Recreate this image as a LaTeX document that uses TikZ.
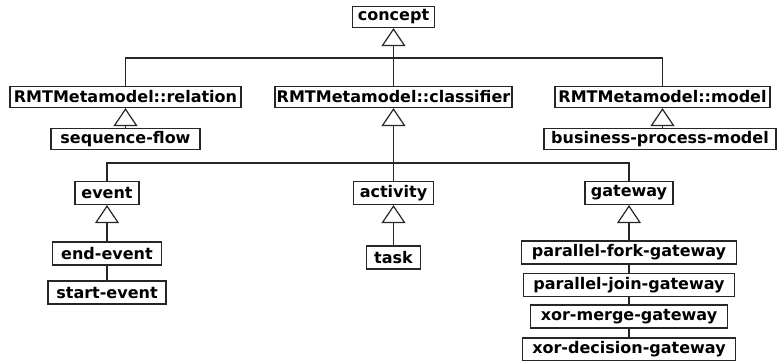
\documentclass[tikz,border=0pt]{standalone}
\usepackage{fontspec}
\setmainfont{DejaVu Sans}
\usetikzlibrary{arrows.meta}
\begin{document}
\begin{tikzpicture}[x=1pt,y=-1pt,
  cls/.style={draw=black!85, line width=1.2pt, fill=white, inner sep=0pt,
    minimum height=21pt, font=\fontsize{16}{19}\selectfont\bfseries, text=black},
  clsl/.style={cls, minimum height=23pt},
  conn/.style={draw=black!85, line width=1.2pt},
  thick conn/.style={conn, line width=1.8pt},
  gen/.style={-{Triangle[open, width=24pt, length=18pt, line width=1.2pt]}},
]
\useasboundingbox (0,0) rectangle (777,361);

% nodes
\node[cls, minimum width=82pt]  (concept)    at (393.5,17)  {concept};
\node[cls, minimum width=231pt] (relation)   at (125.5,97)  {RMTMetamodel::relation};
\node[cls, minimum width=237pt] (classifier) at (393.5,97)  {RMTMetamodel::classifier};
\node[cls, minimum width=215pt] (model)      at (662.5,97)  {RMTMetamodel::model};
\node[cls, minimum width=149pt] (seqflow)    at (125.5,139) {sequence-flow};
\node[cls, minimum width=232pt] (bpm)        at (660,139)   {business-process-model};

\node[clsl, minimum width=64pt]  (event)    at (107,193)   {event};
\node[clsl, minimum width=80pt]  (activity) at (393.5,193) {activity};
\node[clsl, minimum width=88pt]  (gateway)  at (629,193)   {gateway};

\node[clsl, minimum width=109pt] (endev)   at (107,253.5) {end-event};
\node[clsl, minimum width=118pt] (startev) at (107,292.5) {start-event};
\node[clsl, minimum width=54pt]  (task)    at (393.5,257.5) {task};

\node[clsl, minimum width=215pt] (pfork)  at (629,252.5) {parallel-fork-gateway};
\node[clsl, minimum width=211pt] (pjoin)  at (629,285)   {parallel-join-gateway};
\node[clsl, minimum width=197pt] (xmerge) at (629,316.5) {xor-merge-gateway};
\node[clsl, minimum width=213pt] (xdec)   at (629,349.5) {xor-decision-gateway};

% bars
\coordinate (bar1) at (393.5,58);
\coordinate (bar2) at (393.5,163);

% connectors
\draw[conn] (relation.north) |- (bar1) -| (model.north);
\draw[thick conn, gen] (classifier.north) -- (concept.south);

\draw[conn, gen] (seqflow.north) -- (relation.south);
\draw[conn, gen] (bpm.north -| model.south) -- (model.south);

\draw[conn] (event.north) |- (bar2) -| (gateway.north);
\draw[thick conn, gen] (activity.north) -- (classifier.south);

\draw[conn, gen] (endev.north) -- (event.south);
\draw[conn] (startev.north) -- (endev.south);
\draw[conn, gen] (task.north) -- (activity.south);

\draw[thick conn, gen] (pfork.north) -- (gateway.south);
\draw[conn] (pjoin.north) -- (pfork.south);
\draw[conn] (xmerge.north) -- (pjoin.south);
\draw[conn] (xdec.north) -- (xmerge.south);
\end{tikzpicture}
\end{document}
